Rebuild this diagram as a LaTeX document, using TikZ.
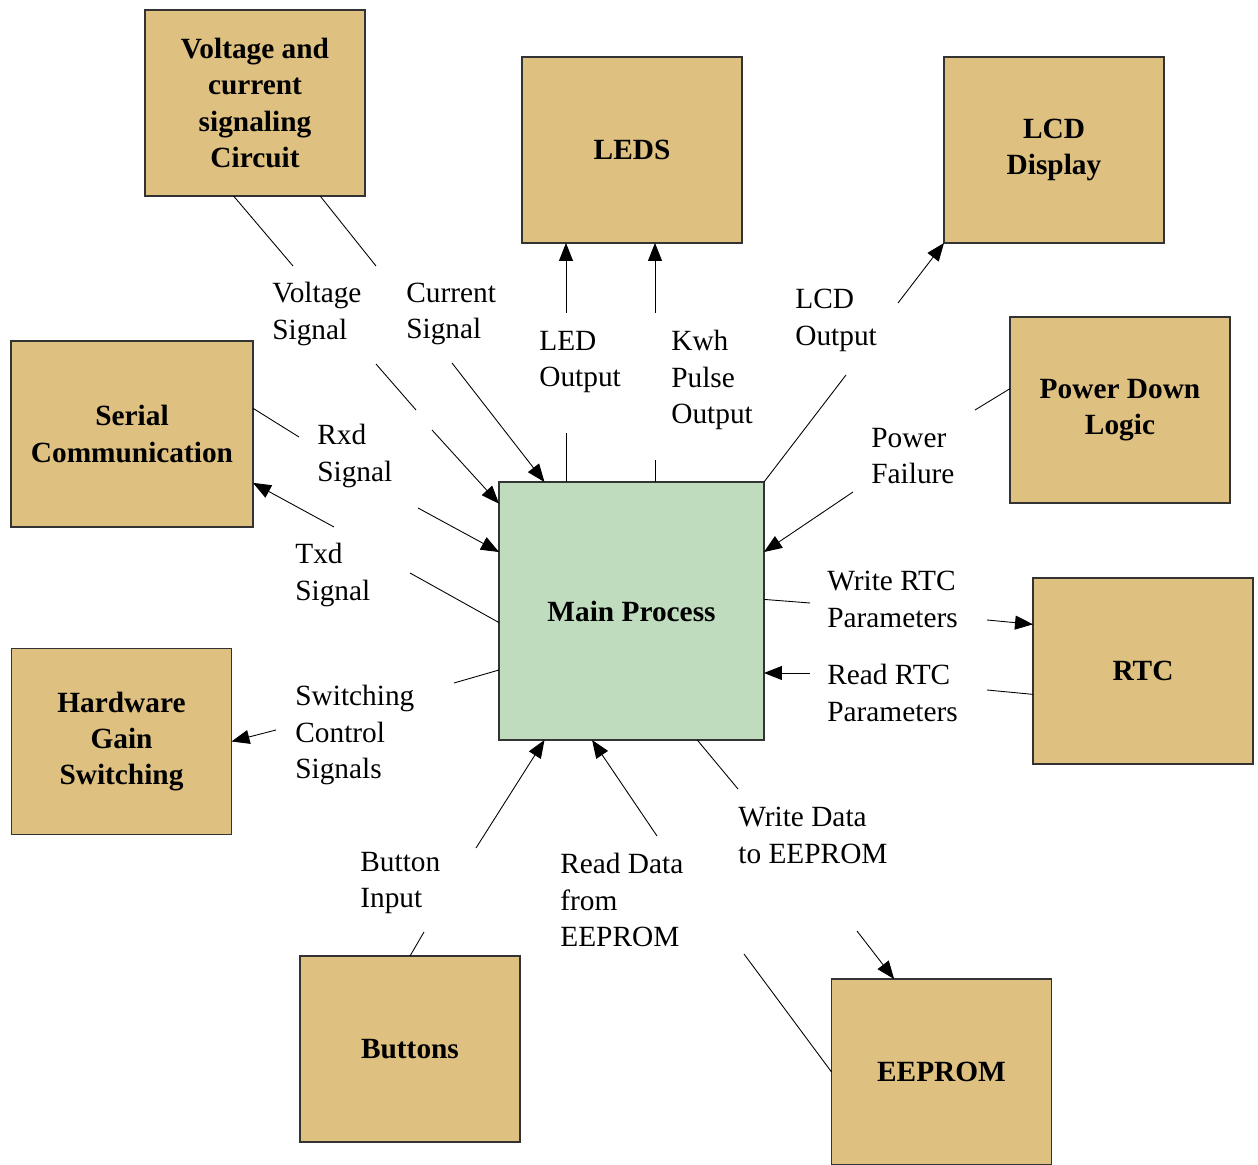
\documentclass[tikz,border=0pt]{standalone}
\usepackage{fontspec}
\setmainfont{Liberation Serif}
\usetikzlibrary{arrows.meta}
\definecolor{tanbox}{RGB}{222,192,128}
\definecolor{mainfill}{RGB}{191,220,190}

\begin{document}
\begin{tikzpicture}[x=0.02cm,y=-0.02cm,
  >={Triangle[length=0.36cm,width=0.28cm]},
  blockbox/.style={draw=black!80,line width=0.8pt,fill=tanbox,minimum width=4.4cm,minimum height=3.72cm,
    outer sep=0pt,align=center,font=\fontsize{16.7}{20.5}\selectfont\bfseries},
  mainbox/.style={blockbox,fill=mainfill,minimum width=5.3cm,minimum height=5.16cm},
  siglabel/.style={anchor=west,align=left,inner sep=0pt,font=\fontsize{16.7}{21}\selectfont},
  link/.style={black,line width=0.5pt}]
\useasboundingbox (0,0) rectangle (1258,1165);
%Blocks
\node[mainbox] (mainp) at (631.5,611) {Main Process};
\node[blockbox] (volt) at (255,103) {Voltage and\\current\\signaling\\Circuit};
\node[blockbox] (leds) at (632,150) {LEDS};
\node[blockbox] (lcd) at (1054,150) {LCD\\Display};
\node[blockbox] (pdl) at (1120,410) {Power Down\\Logic};
\node[blockbox,minimum width=4.84cm] (serial) at (132,434) {Serial\\Communication};
\node[blockbox] (rtc) at (1143,671) {RTC};
\node[blockbox] (hwg) at (121.5,741.5) {Hardware\\Gain\\Switching};
\node[blockbox] (buttons) at (410,1049) {Buttons};
\node[blockbox] (eeprom) at (941.5,1072) {EEPROM};
%Signal labels
\node[siglabel] (vsig) at (272,314) {Voltage\\Signal};
\node[siglabel] (csig) at (406,314) {Current\\Signal};
\node[siglabel] (ledout) at (539,362) {LED\\Output};
\node[siglabel] (kwhout) at (671,380) {Kwh\\Pulse\\Output};
\node[siglabel] (lcdout) at (795,320) {LCD\\Output};
\node[siglabel] (pfail) at (871,456) {Power\\Failure};
\node[siglabel] (rxd) at (317,456) {Rxd\\Signal};
\node[siglabel] (txd) at (295,575) {Txd\\Signal};
\node[siglabel] (swc) at (295,735) {Switching\\Control\\Signals};
\node[siglabel] (wrtc) at (827,599) {Write RTC\\Parameters};
\node[siglabel] (rrtc) at (827,693) {Read RTC\\Parameters};
\node[siglabel] (btn) at (360,883) {Button\\Input};
\node[siglabel] (rdee) at (560,900) {Read Data\\from\\EEPROM};
\node[siglabel] (wdee) at (738,835) {Write Data\\to EEPROM};
%Free ends of the connectors
\coordinate (v1) at (293,266);  \coordinate (v2) at (376,364);
\coordinate (v3) at (416,410);  \coordinate (v4) at (432,430);
\coordinate (c1) at (376,266);  \coordinate (c2) at (452,363);
\coordinate (led1) at (566,433); \coordinate (led2) at (566,313);
\coordinate (kwh1) at (655,460); \coordinate (kwh2) at (655,313);
\coordinate (lc1) at (846,375); \coordinate (lc2) at (898,303);
\coordinate (pf1) at (975,410); \coordinate (pf2) at (853,492);
\coordinate (rx1) at (299,437); \coordinate (rx2) at (418,508);
\coordinate (tx1) at (410,573); \coordinate (tx2) at (334,527);
\coordinate (sw1) at (454,683); \coordinate (sw2) at (276,730);
\coordinate (wr1) at (810,603); \coordinate (wr2) at (987,620);
\coordinate (rr1) at (987,690); \coordinate (rr2) at (810,673);
\coordinate (bi1) at (424,932); \coordinate (bi2) at (476,848);
\coordinate (rd1) at (744,954); \coordinate (rd2) at (657,836);
\coordinate (wd1) at (738,789); \coordinate (wd2) at (857,931);
%Connectors
\draw[link] (volt.257) -- (v1);
\draw[link] (v2) -- (v3);
\draw[link,->] (v4) -- (mainp.141);
\draw[link] (volt.305) -- (c1);
\draw[link,->] (c2) -- (mainp.124);
\draw[link] (mainp.north -| led1) -- (led1);
\draw[link,->] (led2) -- (leds.south -| led2);
\draw[link] (mainp.north -| kwh1) -- (kwh1);
\draw[link,->] (kwh2) -- (leds.south -| kwh2);
\draw[link] (mainp.north east) -- (lc1);
\draw[link,->] (lc2) -- (lcd.south west);
\draw[link] (pdl.169) -- (pf1);
\draw[link,->] (pf2) -- (mainp.24);
\draw[link] (serial.12) -- (rx1);
\draw[link,->] (rx2) -- (mainp.156);
\draw[link] (mainp.185) -- (tx1);
\draw[link,->] (tx2) -- (serial.338);
\draw[link] (mainp.204) -- (sw1);
\draw[link,->] (sw2) -- (hwg.east);
\draw[link] (mainp.5) -- (wr1);
\draw[link,->] (wr2) -- (rtc.157);
\draw[link] (rtc.192) -- (rr1);
\draw[link,->] (rr2) -- (mainp.east |- rr2);
\draw[link] (buttons.north) -- (bi1);
\draw[link,->] (bi2) -- (mainp.236);
\draw[link] (eeprom.west) -- (rd1);
\draw[link,->] (rd2) -- (mainp.253);
\draw[link] (mainp.297) -- (wd1);
\draw[link,->] (wd2) -- (eeprom.117);
\end{tikzpicture}
\end{document}
